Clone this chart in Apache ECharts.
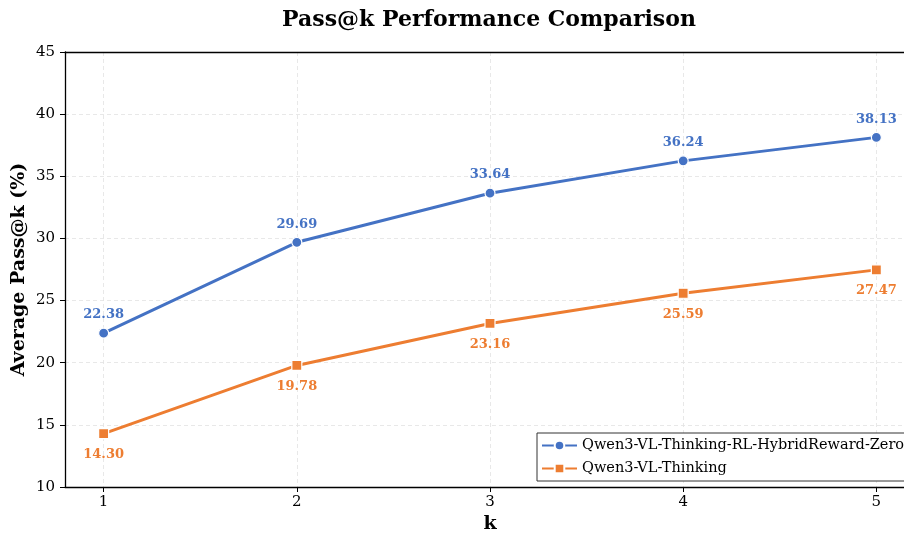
<!DOCTYPE html>
<html>
<head>
<meta charset="utf-8">
<script src="https://cdn.jsdelivr.net/npm/echarts@6/dist/echarts.min.js"></script>
<style>
body{margin:0;padding:0;background:#fff;}
#chart{width:904px;height:536px;}
</style>
</head>
<body>
<div id="chart"></div>
<script>
var kValues = [1, 2, 3, 4, 5];
var hybridScores = [22.38, 29.69, 33.64, 36.24, 38.13];
var thinkingScores = [14.30, 19.78, 23.16, 25.59, 27.47];
var seriesNames = ['Qwen3-VL-Thinking-RL-HybridReward-Zero', 'Qwen3-VL-Thinking'];

var font = 'DejaVu Serif';
var chart = echarts.init(document.getElementById('chart'));

function pairs(vals) {
    return kValues.map(function (k, i) { return [k, vals[i]]; });
}

var option = {
    backgroundColor: '#fff',
    textStyle: {fontFamily: font},
    title: {
        text: 'Pass@k Performance Comparison',
        left: 484,
        textAlign: 'center',
        top: 4,
        textStyle: {fontFamily: font, fontSize: 22, fontWeight: 'bold', color: '#000'}
    },
    grid: {
        left: 65, top: 52, width: 850, bottom: 49,
        outerBoundsMode: 'none',
        containLabel: false
    },
    legend: {
        left: 537, top: 433,
        orient: 'vertical',
        itemWidth: 35, itemHeight: 12, itemGap: 8,
        padding: [5, 6, 5, 4],
        borderColor: '#333', borderWidth: 1, borderRadius: 0,
        backgroundColor: '#fff',
        textStyle: {fontFamily: font, fontSize: 14.5, color: '#000'},
        data: seriesNames
    },
    xAxis: [
        {
            type: 'value',
            min: 0.8, max: 5.2,
            name: 'k', nameLocation: 'middle', nameGap: 28,
            nameTextStyle: {fontFamily: font, fontSize: 19, fontWeight: 'bold', color: '#000'},
            axisLine: {lineStyle: {color: '#000', width: 1.3}},
            axisTick: {show: true, customValues: kValues, length: 5, lineStyle: {color: '#000'}},
            axisLabel: {customValues: kValues, fontFamily: font, fontSize: 15, color: '#000', margin: 8},
            splitLine: {show: true, lineStyle: {color: '#e2e2e2', type: [4, 3], width: 0.8}}
        },
        {
            // top spine
            type: 'value', position: 'top',
            min: 0.8, max: 5.2,
            axisLine: {show: true, lineStyle: {color: '#000', width: 1.3}},
            axisTick: {show: false},
            axisLabel: {show: false},
            splitLine: {show: false}
        }
    ],
    yAxis: {
        type: 'value',
        min: 10, max: 45, interval: 5,
        name: 'Average Pass@k (%)', nameLocation: 'middle', nameGap: 36,
        nameMoveOverlap: false,
        nameTextStyle: {fontFamily: font, fontSize: 19, fontWeight: 'bold', color: '#000'},
        axisLine: {show: true, lineStyle: {color: '#000', width: 1.3}},
        axisTick: {show: true, length: 5, lineStyle: {color: '#000'}},
        axisLabel: {fontFamily: font, fontSize: 15, color: '#000', margin: 10},
        splitLine: {show: true, lineStyle: {color: '#e2e2e2', type: [4, 3], width: 0.8}}
    },
    series: [
        {
            name: seriesNames[0],
            type: 'line',
            data: pairs(hybridScores),
            symbol: 'circle', symbolSize: 10,
            lineStyle: {color: '#4472C4', width: 3},
            itemStyle: {color: '#4472C4', borderColor: '#fff', borderWidth: 1.2},
            label: {
                show: true, position: 'top', distance: 6,
                formatter: function (p) { return p.value[1].toFixed(2); },
                fontFamily: font, fontSize: 13, fontWeight: 'bold', color: '#4472C4'
            },
            z: 3
        },
        {
            name: seriesNames[1],
            type: 'line',
            data: pairs(thinkingScores),
            symbol: 'rect', symbolSize: 10,
            lineStyle: {color: '#ED7D31', width: 3},
            itemStyle: {color: '#ED7D31', borderColor: '#fff', borderWidth: 1.2},
            label: {
                show: true, position: 'bottom', distance: 9,
                formatter: function (p) { return p.value[1].toFixed(2); },
                fontFamily: font, fontSize: 13, fontWeight: 'bold', color: '#ED7D31'
            },
            z: 2
        }
    ]
};
chart.setOption(option);
</script>
</body>
</html>
